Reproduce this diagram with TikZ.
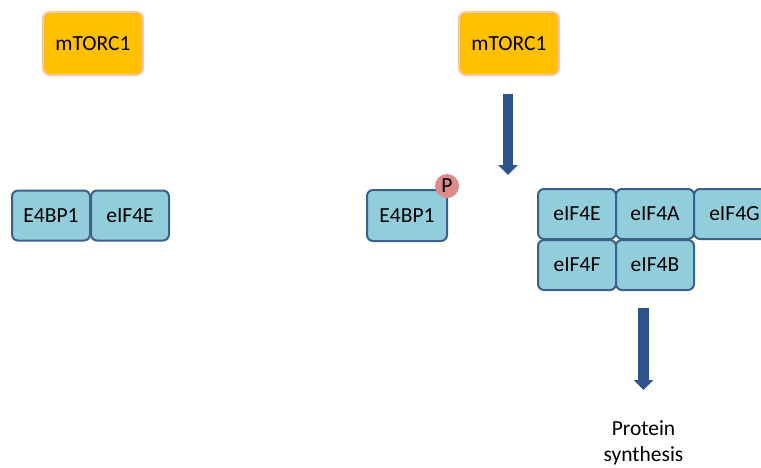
\documentclass[tikz,border=0pt]{standalone}
\usepackage{fontspec}
\setmainfont{Carlito}
\usetikzlibrary{arrows.meta}
\definecolor{mtor}{RGB}{255,192,0}
\definecolor{mtorb}{RGB}{248,196,170}
\definecolor{eif}{RGB}{146,205,220}
\definecolor{eifb}{RGB}{60,96,140}
\definecolor{arr}{RGB}{44,84,138}
\definecolor{pcol}{RGB}{220,138,138}
\tikzset{
  mtorbox/.style={draw=mtorb, fill=mtor, line width=2pt, rounded corners=7pt, minimum width=100pt, minimum height=63pt, inner sep=0pt, font=\fontsize{21.5}{24}\selectfont},
  eifbox/.style={draw=eifb, fill=eif, line width=2pt, rounded corners=6pt, minimum width=78pt, minimum height=50pt, inner sep=0pt, font=\fontsize{21.5}{24}\selectfont},
  bigarrow/.style={draw=arr, line width=10.5pt, -{Triangle[width=19pt,length=10pt]}},
  pdot/.style={circle, fill=pcol, minimum size=24pt, inner sep=0pt, font=\fontsize{21.5}{24}\selectfont},
  plain/.style={font=\fontsize{21.5}{26}\selectfont, align=center}
}
\begin{document}
\begin{tikzpicture}[x=1pt,y=-1pt]
\useasboundingbox (0,0) rectangle (761,467);
\fill[white] (0,0) rectangle (761,467);
% left side
\node[mtorbox] (m1) at (93,43.5) {mTORC1};
\node[eifbox] (e4l) at (51,215.5) {E4BP1};
\node[eifbox] (eifl) at (130,215.5) {eIF4E};
% right side
\node[mtorbox] (m2) at (509,43.5) {mTORC1};
\node[eifbox, minimum width=80pt, minimum height=51pt] (e4r) at (407,215.5) {E4BP1};
\node[pdot] (p) at (447,186) {P};
\node[eifbox] (e) at (577,214) {eIF4E};
\node[eifbox] (a) at (655,214) {eIF4A};
\node[eifbox, minimum width=81pt] (g) at (734.5,214) {eIF4G};
\node[eifbox] (f) at (577,265) {eIF4F};
\node[eifbox] (b) at (655,265) {eIF4B};
\node[plain] (ps) at (643.5,443) {Protein\\synthesis};
\coordinate (a1s) at (508,94);
\coordinate (a1e) at (508,175);
\coordinate (a2s) at (643.5,308);
\coordinate (a2e) at (643.5,390);
\draw[bigarrow] (a1s) -- (a1e);
\draw[bigarrow] (a2s) -- (a2e);
\end{tikzpicture}
\end{document}
